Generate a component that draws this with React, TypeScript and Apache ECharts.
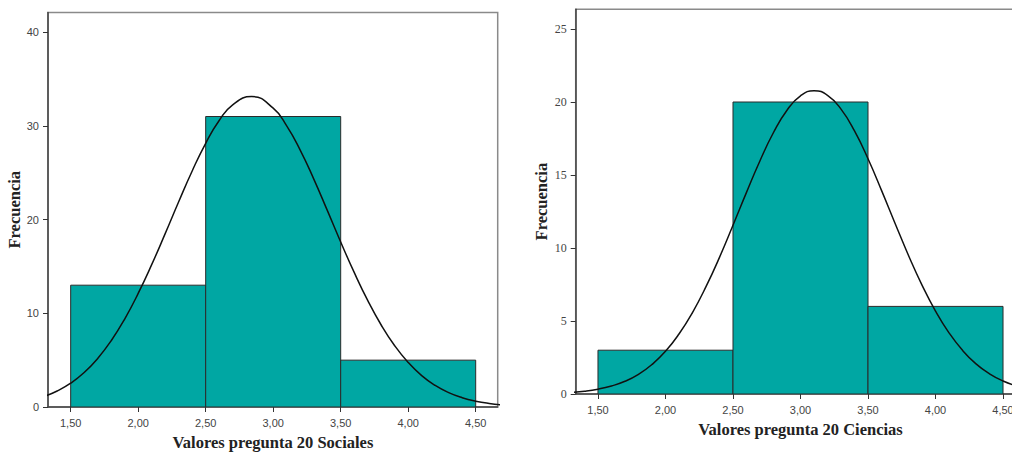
import React, { useEffect, useRef } from "react";
import * as echarts from "echarts";

// Histogram bins (shared by both charts)
const binStarts = [1.5, 2.5, 3.5];
const binEnds = [2.5, 3.5, 4.5];
const countsSociales = [13, 31, 5];
const countsCiencias = [3, 20, 6];

// Tick values
const xTicks = [1.5, 2.0, 2.5, 3.0, 3.5, 4.0, 4.5];
const yTicksSociales = [0, 10, 20, 30, 40];
const yTicksCiencias = [0, 5, 10, 15, 20, 25];

// Fitted normal curves
const curveXSociales = [
  1.3, 1.4, 1.5, 1.6, 1.7, 1.8, 1.9, 2.0, 2.1, 2.2, 2.3, 2.4, 2.5, 2.6, 2.7, 2.84,
  3.0, 3.1, 3.2, 3.3, 3.4, 3.5, 3.6, 3.7, 3.8, 3.9, 4.0, 4.1, 4.2, 4.3, 4.4, 4.5, 4.6, 4.7,
];
const curveSociales = [
  1.11, 1.71, 2.54, 3.68, 5.18, 7.07, 9.39, 12.12, 15.19, 18.5, 21.9, 25.19, 28.14, 30.57,
  32.25, 33.13, 31.89, 30.0, 27.42, 24.35, 21.01, 17.61, 14.36, 11.37, 8.75, 6.54,
  4.75, 3.35, 2.3, 1.53, 0.99, 0.62, 0.38, 0.23,
];
const curveXCiencias = [
  1.3, 1.4, 1.5, 1.6, 1.7, 1.8, 1.9, 2.0, 2.1, 2.2, 2.3, 2.4, 2.5, 2.6, 2.7, 2.8, 2.9,
  3.0, 3.1, 3.2, 3.3, 3.4, 3.5, 3.6, 3.7, 3.8, 3.9, 4.0, 4.1, 4.2, 4.3, 4.4, 4.5, 4.6, 4.7,
];
const curveCiencias = [
  0.11, 0.19, 0.33, 0.55, 0.87, 1.35, 2.02, 2.92, 4.11, 5.58, 7.35, 9.36, 11.56, 13.81,
  15.98, 17.91, 19.44, 20.42, 20.77, 20.46, 19.51, 18.02, 16.11, 13.95, 11.7, 9.49, 7.46,
  5.68, 4.19, 2.99, 2.06, 1.38, 0.89, 0.56, 0.34,
];

const xTitleSociales = "Valores pregunta 20 Sociales";
const xTitleCiencias = "Valores pregunta 20 Ciencias";
const yTitle = "Frecuencia";

const TEAL = "#00a7a3";

const fmtX = (v: number) => v.toFixed(2).replace(".", ",");

function xAxis(gridIndex: number, min: number, max: number, name: string) {
  return {
    type: "value",
    gridIndex,
    min,
    max,
    name,
    nameLocation: "middle",
    nameGap: 27,
    nameTextStyle: {
      fontFamily: "Liberation Serif",
      fontWeight: "bold",
      fontSize: 16.5,
      color: "#222",
    },
    splitLine: { show: false },
    axisLine: { show: true, onZero: false, lineStyle: { color: "#444", width: 1.5 } },
    axisTick: {
      show: true,
      length: 5,
      inside: false,
      customValues: xTicks,
      lineStyle: { color: "#333", width: 1 },
    },
    axisLabel: {
      customValues: xTicks,
      formatter: fmtX,
      margin: 10,
      fontFamily: "Liberation Sans",
      fontSize: 11,
      color: "#444",
    },
  };
}

function yAxis(gridIndex: number, max: number, ticks: number[], serif: boolean, gap: number) {
  return {
    type: "value",
    gridIndex,
    min: 0,
    max,
    name: yTitle,
    nameLocation: "middle",
    nameGap: gap,
    nameRotate: 90,
    nameTextStyle: {
      fontFamily: "Liberation Serif",
      fontWeight: "bold",
      fontSize: 16.5,
      color: "#222",
    },
    splitLine: { show: false },
    axisLine: { show: true, onZero: false, lineStyle: { color: "#444", width: 1.5 } },
    axisTick: {
      show: true,
      length: 5,
      customValues: ticks,
      lineStyle: { color: "#333", width: 1 },
    },
    axisLabel: {
      customValues: ticks,
      margin: 9,
      fontFamily: serif ? "Liberation Serif" : "Liberation Sans",
      fontSize: serif ? 12 : 11,
      color: "#444",
    },
  };
}

function barSeries(idx: number, counts: number[]) {
  return {
    type: "custom",
    xAxisIndex: idx,
    yAxisIndex: idx,
    z: 2,
    clip: true,
    data: counts.map((c, i) => [binStarts[i], binEnds[i], c]),
    encode: { x: [0, 1], y: 2 },
    renderItem: (_params: any, api: any) => {
      const x0 = api.value(0);
      const x1 = api.value(1);
      const v = api.value(2);
      const p0 = api.coord([x0, v]);
      const p1 = api.coord([x1, 0]);
      return {
        type: "rect",
        shape: { x: p0[0], y: p0[1], width: p1[0] - p0[0], height: p1[1] - p0[1] },
        style: { fill: TEAL, stroke: "#2b2b2b", lineWidth: 1 },
      };
    },
  };
}

function curveSeries(idx: number, xs: number[], ys: number[]) {
  return {
    type: "line",
    xAxisIndex: idx,
    yAxisIndex: idx,
    z: 5,
    clip: true,
    smooth: 0.5,
    showSymbol: false,
    symbol: "none",
    silent: true,
    lineStyle: { color: "#111", width: 1.5 },
    data: xs.map((x, i) => [x, ys[i]]),
  };
}

export default function App() {
  const ref = useRef<HTMLDivElement>(null);
  useEffect(() => {
    if (!ref.current) return;
    const chart = echarts.init(ref.current, undefined, { renderer: "svg" });
    chart.setOption({
      animation: false,
      backgroundColor: "#ffffff",
      grid: [
        {
          left: 48,
          top: 12.5,
          width: 449.7,
          height: 394.5,
          show: true,
          borderColor: "#8a8a8a",
          borderWidth: 1.5,
          backgroundColor: "transparent",
          outerBoundsMode: "none",
          containLabel: false,
        },
        {
          left: 575.7,
          top: 9.3,
          width: 449.6,
          height: 384.7,
          show: true,
          borderColor: "#8a8a8a",
          borderWidth: 1.5,
          backgroundColor: "transparent",
          outerBoundsMode: "none",
          containLabel: false,
        },
      ],
      xAxis: [
        xAxis(0, 1.332, 4.663, xTitleSociales),
        xAxis(1, 1.335, 4.665, xTitleCiencias),
      ],
      yAxis: [
        yAxis(0, 42.1, yTicksSociales, false, 25),
        yAxis(1, 26.35, yTicksCiencias, true, 26),
      ],
      series: [
        barSeries(0, countsSociales),
        curveSeries(0, curveXSociales, curveSociales),
        barSeries(1, countsCiencias),
        curveSeries(1, curveXCiencias, curveCiencias),
      ],
    });
    return () => chart.dispose();
  }, []);
  return (
    <div
      ref={ref}
      style={{ position: "fixed", left: 0, top: 0, width: 1012, height: 452, background: "#fff" }}
    />
  );
}
